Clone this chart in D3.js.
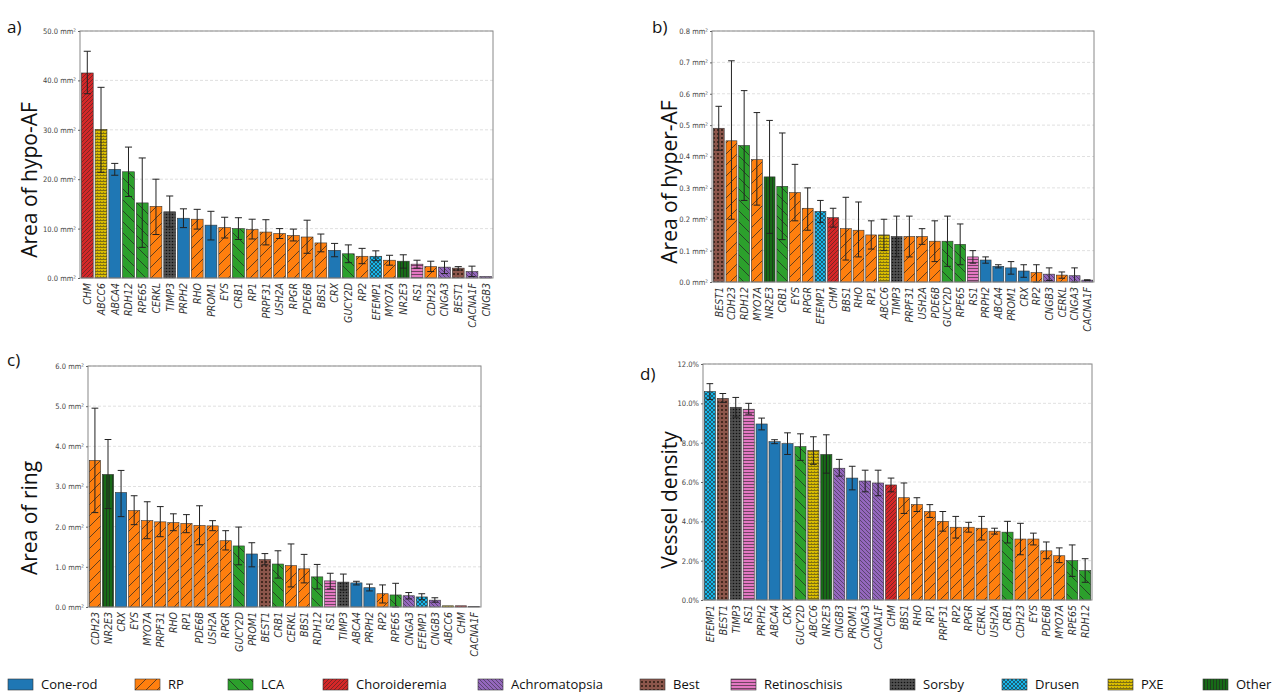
<!DOCTYPE html>
<html><head><meta charset="utf-8">
<script src="https://cdn.jsdelivr.net/npm/d3@7"></script>
<style>body{margin:0;background:#fff}svg{display:block}</style>
</head><body><svg id="c" width="1278" height="692"></svg>
<script>
// ---- data ----
const geneGroup = {ABCA4:"Cone-rod",PRPH2:"Cone-rod",PROM1:"Cone-rod",CRX:"Cone-rod",
 CERKL:"RP",RHO:"RP",EYS:"RP",RP1:"RP",PRPF31:"RP",USH2A:"RP",RPGR:"RP",PDE6B:"RP",BBS1:"RP",RP2:"RP",MYO7A:"RP",CDH23:"RP",
 RDH12:"LCA",RPE65:"LCA",CRB1:"LCA",GUCY2D:"LCA",CHM:"Choroideremia",
 CNGA3:"Achromatopsia",CNGB3:"Achromatopsia",CACNA1F:"Achromatopsia",BEST1:"Best",RS1:"Retinoschisis",
 TIMP3:"Sorsby",EFEMP1:"Drusen",ABCC6:"PXE",NR2E3:"Other"};
const legendCats = ["Cone-rod","RP","LCA","Choroideremia","Achromatopsia","Best","Retinoschisis","Sorsby","Drusen","PXE","Other"];

const genesA = ["CHM","ABCC6","ABCA4","RDH12","RPE65","CERKL","TIMP3","PRPH2","RHO","PROM1","EYS","CRB1","RP1","PRPF31","USH2A","RPGR","PDE6B","BBS1","CRX","GUCY2D","RP2","EFEMP1","MYO7A","NR2E3","RS1","CDH23","CNGA3","BEST1","CACNA1F","CNGB3"];
const valA = [41.5,30.1,22.0,21.5,15.2,14.5,13.4,12.1,11.9,10.7,10.2,10.0,9.8,9.3,9.0,8.6,8.3,7.1,5.6,4.9,4.4,4.4,3.6,3.4,2.8,2.3,2.2,2.0,1.3,0.3];
const loA  = [37.3,21.4,20.8,16.5,6.2,8.8,10.3,10.2,9.9,7.7,8.1,7.8,7.9,6.7,8.0,7.5,5.0,5.3,4.3,3.1,2.9,3.5,2.6,2.0,2.0,1.3,0.9,1.6,0.3,0.3];
const hiA  = [45.9,38.6,23.2,26.5,24.3,20.0,16.6,14.0,13.9,13.5,12.3,12.2,11.9,11.8,10.0,9.9,11.7,8.9,7.0,6.7,6.0,5.5,4.6,4.7,3.6,3.4,3.4,2.3,2.4,0.3];

const genesB = ["BEST1","CDH23","RDH12","MYO7A","NR2E3","CRB1","EYS","RPGR","EFEMP1","CHM","BBS1","RHO","RP1","ABCC6","TIMP3","PRPF31","USH2A","PDE6B","GUCY2D","RPE65","RS1","PRPH2","ABCA4","PROM1","CRX","RP2","CNGB3","CERKL","CNGA3","CACNA1F"];
const valB = [0.49,0.45,0.435,0.39,0.335,0.305,0.285,0.235,0.225,0.205,0.17,0.165,0.15,0.15,0.145,0.145,0.145,0.13,0.13,0.12,0.08,0.07,0.05,0.045,0.035,0.03,0.025,0.022,0.02,0.006];
const loB  = [0.42,0.20,0.26,0.245,0.155,0.135,0.195,0.165,0.19,0.175,0.07,0.08,0.105,0.10,0.08,0.08,0.12,0.065,0.05,0.055,0.06,0.06,0.045,0.025,0.015,0.0,0.005,0.012,0.0,0.005];
const hiB  = [0.56,0.705,0.61,0.54,0.515,0.475,0.375,0.30,0.26,0.235,0.27,0.255,0.195,0.20,0.21,0.21,0.17,0.195,0.21,0.185,0.10,0.08,0.055,0.065,0.055,0.055,0.045,0.032,0.045,0.007];

const genesC = ["CDH23","NR2E3","CRX","EYS","MYO7A","PRPF31","RHO","RP1","PDE6B","USH2A","RPGR","GUCY2D","PROM1","BEST1","CRB1","CERKL","BBS1","RDH12","RS1","TIMP3","ABCA4","PRPH2","RP2","RPE65","CNGA3","EFEMP1","CNGB3","ABCC6","CHM","CACNA1F"];
const valC = [3.65,3.3,2.85,2.4,2.15,2.12,2.1,2.08,2.03,2.02,1.65,1.52,1.32,1.18,1.07,1.03,0.95,0.75,0.65,0.62,0.6,0.48,0.33,0.3,0.28,0.25,0.17,0.03,0.03,0.01];
const loC  = [2.35,2.45,2.25,2.05,1.7,1.75,1.9,1.85,1.55,1.9,1.42,1.05,1.0,1.05,0.72,0.5,0.6,0.45,0.45,0.42,0.55,0.4,0.1,0.0,0.2,0.18,0.12,0.03,0.03,0.01];
const hiC  = [4.95,4.17,3.4,2.77,2.62,2.5,2.32,2.3,2.52,2.15,1.9,1.99,1.6,1.33,1.4,1.57,1.31,1.06,0.84,0.82,0.64,0.57,0.55,0.59,0.36,0.33,0.23,0.03,0.03,0.01];

const genesD = ["EFEMP1","BEST1","TIMP3","RS1","PRPH2","ABCA4","CRX","GUCY2D","ABCC6","NR2E3","CNGB3","PROM1","CNGA3","CACNA1F","CHM","BBS1","RHO","RP1","PRPF31","RP2","RPGR","CERKL","USH2A","CRB1","CDH23","EYS","PDE6B","MYO7A","RPE65","RDH12"];
const valD = [10.6,10.25,9.8,9.7,8.95,8.05,7.95,7.8,7.6,7.4,6.7,6.2,6.05,5.95,5.85,5.2,4.85,4.5,4.0,3.7,3.7,3.65,3.5,3.45,3.1,3.1,2.5,2.25,2.0,1.5];
const loD  = [10.2,10.05,9.3,9.45,8.65,7.95,7.4,7.1,6.9,6.45,6.3,5.6,5.5,5.3,5.5,4.4,4.5,4.2,3.5,3.15,3.45,3.05,3.35,2.9,2.3,2.8,2.1,1.9,1.2,0.9];
const hiD  = [11.0,10.5,10.3,10.0,9.25,8.15,8.5,8.45,8.3,8.4,7.15,6.8,6.6,6.6,6.2,5.95,5.2,4.85,4.5,4.25,3.95,4.25,3.65,4.0,3.9,3.4,2.95,2.65,2.8,2.1];

const ticksArea = [0,10,20,30,40,50];
// ---- styles ----
const colors = {"Cone-rod":"#1f77b4","RP":"#ff7f0e","LCA":"#2ca02c","Choroideremia":"#d62728","Achromatopsia":"#9467bd",
 "Best":"#8c564b","Retinoschisis":"#e377c2","Sorsby":"#505050","Drusen":"#17b6ea","PXE":"#d9bc00","Other":"#176b17"};

const svg = d3.select("#c");
const defs = svg.append("defs");
legendCats.forEach((c,i)=>{
  const id="p"+i;
  let p;
  const col=colors[c];
  const mk=(size)=>{p=defs.append("pattern").attr("id",id).attr("patternUnits","userSpaceOnUse").attr("width",size).attr("height",size);
    p.append("rect").attr("width",size).attr("height",size).attr("fill",col);return p;};
  const line=(p,x1,y1,x2,y2,w)=>p.append("line").attr("x1",x1).attr("y1",y1).attr("x2",x2).attr("y2",y2).attr("stroke","#222").attr("stroke-width",w||0.7);
  if(c==="RP"){mk(11);line(p,0,11,11,0);line(p,-2,2,2,-2);line(p,9,13,13,9);}
  else if(c==="LCA"){mk(11);line(p,0,0,11,11);line(p,-2,9,2,13);line(p,9,-2,13,2);}
  else if(c==="Choroideremia"){mk(4);line(p,0,4,4,0,0.5);line(p,-1,1,1,-1,0.5);line(p,3,5,5,3,0.5);}
  else if(c==="Achromatopsia"){mk(4);line(p,0,0,4,4,0.5);line(p,-1,3,1,5,0.5);line(p,3,-1,5,1,0.5);}
  else if(c==="Best"){mk(4);p.append("circle").attr("cx",2).attr("cy",2).attr("r",1).attr("fill","#2a1a10");}
  else if(c==="Sorsby"){mk(3);p.append("circle").attr("cx",1.5).attr("cy",1.5).attr("r",0.8).attr("fill","#111");}
  else if(c==="Retinoschisis"){mk(3);line(p,0,1.5,3,1.5,0.6);}
  else if(c==="Drusen"){mk(4);line(p,0,0,4,4,0.6);line(p,0,4,4,0,0.6);}
  else if(c==="PXE"){mk(3);line(p,0,1.5,3,1.5,0.5);p.append("circle").attr("cx",1.5).attr("cy",0.3).attr("r",0.4).attr("fill","#333");}
  else if(c==="Other"){mk(3);line(p,1.5,0,1.5,3,0.6);}
  else {mk(4);}
});
const fillOf = g => "url(#p"+legendCats.indexOf(geneGroup[g])+")";

function panel(o){
  const g = svg.append("g");
  const x = d3.scaleBand().domain(o.genes).range([o.x0,o.x1]).paddingInner(0.14).paddingOuter(0.1);
  const y = d3.scaleLinear().domain([0,o.max]).range([o.y1,o.y0]);
  g.selectAll(".gr").data(o.ticks.slice(1)).join("line").attr("x1",o.x0).attr("x2",o.x1)
    .attr("y1",d=>y(d)).attr("y2",d=>y(d)).attr("stroke","#d8d8d8").attr("stroke-dasharray","3,2").attr("stroke-width",0.8);
  g.selectAll(".b").data(o.genes).join("rect").attr("x",d=>x(d)).attr("width",x.bandwidth())
    .attr("y",(d,i)=>y(o.val[i])).attr("height",(d,i)=>o.y1-y(o.val[i]))
    .attr("fill",d=>fillOf(d)).attr("stroke","#333").attr("stroke-width",0.6);
  const cw = x.bandwidth()*0.3;
  o.genes.forEach((d,i)=>{
    const cx = x(d)+x.bandwidth()/2;
    if(o.hi[i]-o.lo[i] <= 0.0001) return;
    g.append("line").attr("x1",cx).attr("x2",cx).attr("y1",y(o.lo[i])).attr("y2",y(o.hi[i])).attr("stroke","#222").attr("stroke-width",1);
    [o.lo[i],o.hi[i]].forEach(v=>g.append("line").attr("x1",cx-cw).attr("x2",cx+cw).attr("y1",y(v)).attr("y2",y(v)).attr("stroke","#222").attr("stroke-width",1));
  });
  g.append("rect").attr("x",o.x0).attr("y",o.y0).attr("width",o.x1-o.x0).attr("height",o.y1-o.y0)
    .attr("fill","none").attr("stroke","#888").attr("stroke-width",1);
  const ya = g.append("g").attr("transform",`translate(${o.x0},0)`)
    .call(d3.axisLeft(y).tickValues(o.ticks).tickFormat(o.fmt).tickSize(2).tickPadding(2));
  ya.select(".domain").remove();
  ya.selectAll("text").attr("font-size",7.5).attr("fill","#444").attr("font-family","DejaVu Sans Condensed, DejaVu Sans");
  ya.selectAll("line").attr("stroke","#666");
  g.selectAll(".xl").data(o.genes).join("text")
    .attr("transform",d=>`translate(${x(d)+x.bandwidth()/2+3.8},${o.y1+5}) rotate(-90)`)
    .attr("text-anchor","end").attr("font-size",10.5).attr("font-style","italic")
    .attr("font-family","DejaVu Sans Condensed, DejaVu Sans").attr("fill","#333").text(d=>d);
  g.append("text").attr("transform",`translate(${o.tx},${o.ty}) rotate(-90)`).attr("text-anchor","middle")
    .attr("font-family","Open Sans").attr("font-size",21).attr("fill","#111").text(o.title);
  g.append("text").attr("x",o.lx).attr("y",o.ly).attr("font-family","Open Sans").attr("font-size",17).attr("fill","#111").text(o.letter);
}
const mm = d => d3.format(".1f")(d)+" mm²";
panel({genes:genesA,val:valA,lo:loA,hi:hiA,max:50,ticks:ticksArea,fmt:mm,x0:80,x1:493,y0:31,y1:278,
  title:"Area of hypo-AF",tx:37,ty:180,letter:"a)",lx:7,ly:33});
panel({genes:genesB,val:valB,lo:loB,hi:hiB,max:0.8,ticks:[0,0.1,0.2,0.3,0.4,0.5,0.6,0.7,0.8],fmt:mm,x0:712,x1:1094,y0:31,y1:282,
  title:"Area of hyper-AF",tx:677,ty:182,letter:"b)",lx:652,ly:33});
panel({genes:genesC,val:valC,lo:loC,hi:hiC,max:6,ticks:[0,1,2,3,4,5,6],fmt:mm,x0:88,x1:481,y0:366,y1:607,
  title:"Area of ring",tx:37,ty:518,letter:"c)",lx:7,ly:366});
panel({genes:genesD,val:valD,lo:loD,hi:hiD,max:12,ticks:[0,2,4,6,8,10,12],fmt:d=>d3.format(".1f")(d)+"%",x0:703,x1:1092,y0:364,y1:600,
  title:"Vessel density",tx:677,ty:500,letter:"d)",lx:640,ly:380});

const lx = [8,135,228,323,478,640,731,890,1002,1108,1203];
legendCats.forEach((c,i)=>{
  svg.append("rect").attr("x",lx[i]).attr("y",679).attr("width",25).attr("height",11)
    .attr("fill","url(#p"+i+")").attr("stroke","#333").attr("stroke-width",0.6);
  svg.append("text").attr("x",lx[i]+33).attr("y",689).attr("font-family","Open Sans").attr("font-size",13).attr("fill","#111").text(c);
});
</script></body></html>
